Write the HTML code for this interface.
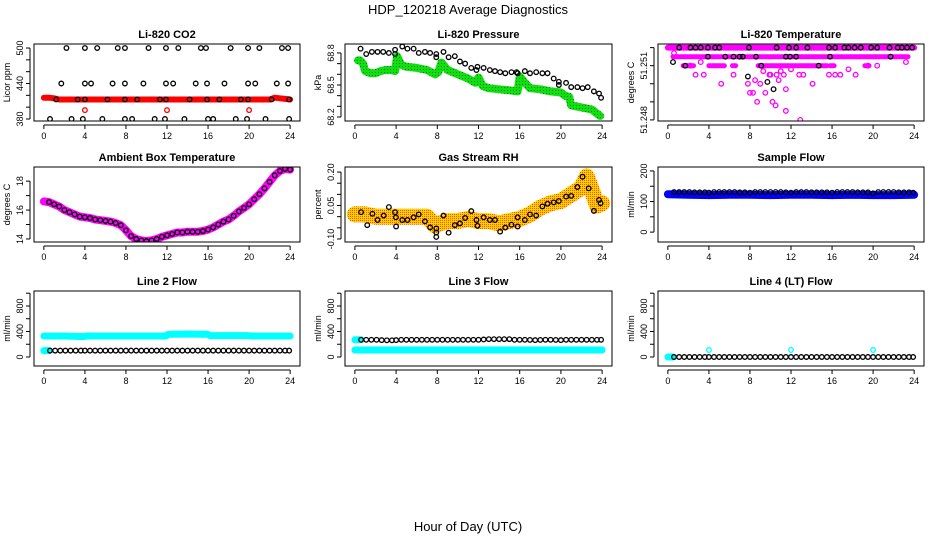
<!DOCTYPE html>
<html><head><meta charset="utf-8"><style>
html,body{margin:0;padding:0;background:#fff;}
svg{display:block;font-family:"Liberation Sans",Arial,sans-serif;}
</style></head><body>
<svg id="chart" width="936" height="540" viewBox="0 0 936 540">
<defs>
<pattern id="rhpat" width="2" height="2" patternUnits="userSpaceOnUse"><rect width="2" height="2" fill="#ffd000"/><rect width="1" height="1" fill="#ff5000"/></pattern>
<pattern id="grpat" width="3" height="3" patternUnits="userSpaceOnUse"><rect width="3" height="3" fill="#10e010"/><rect width="1" height="1" fill="#008000"/></pattern>
</defs>
<text x="468" y="14" text-anchor="middle" font-size="13">HDP_120218  Average Diagnostics</text>
<text x="468" y="531" text-anchor="middle" font-size="13">Hour of Day (UTC)</text>
</svg>
<script>
// ---------- data ----------
const co2BlackHours = [2.2,4.0,5.2,7.2,7.9,10.2,11.9,13.1,15.3,15.8,18.2,19.9,21.0,23.2,23.8, 1.7,4.0,4.6,6.7,7.9,9.7,11.9,12.6,14.8,15.9,17.6,19.9,20.6,22.7,23.8, 1.2,3.3,4.0,6.2,7.9,9.1,11.3,11.9,14.2,15.9,17.1,19.2,19.9,22.2,23.9, 0.6,2.7,3.8,5.7,7.9,8.6,10.8,11.8,13.7,16.0,16.5,18.7,19.8,21.6,23.9];
const co2BlackValues = [500,500,500,500,500,500,500,500,500,500,500,500,500,500,500, 440,440,440,440,440,440,440,440,440,440,440,440,440,440,440, 413,413,413,413,413,413,413,413,413,413,413,413,413,413,413, 380,380,380,380,380,380,380,380,380,380,380,380,380,380,380];
const co2RedHours = [0,0.5,1,1.5,2,4,6,8,10,12,14,16,18,20,22,22.5,23,23.5,24];
const co2RedValues = [416,416,415,413,413,413,413,413,413,413,413,413,413,413,413,416,415,414,413];
const co2RedOutHours = [4,12,20];
const co2RedOutValues = [395,395,395];

const presBlackHours = [0.55,1.1,1.65,2.2,2.75,3.3,3.9,3.9,4.6,5.1,5.7,6.2,6.8,7.3,7.9,7.9,8.6,9.1,9.7,10.2,10.7,11.3,11.8,11.9,12.5,13.1,13.6,14.1,14.6,15.2,15.7,15.8,16.5,17.0,17.6,18.2,18.7,19.3,19.8,19.8,20.5,21.0,21.6,22.1,22.6,23.2,23.7,23.9];
const presBlackValues = [68.84,68.79,68.81,68.81,68.81,68.80,68.83,68.79,68.86,68.84,68.84,68.80,68.81,68.80,68.79,68.76,68.81,68.76,68.77,68.72,68.70,68.66,68.64,68.67,68.66,68.64,68.63,68.62,68.61,68.62,68.62,68.61,68.63,68.61,68.62,68.61,68.61,68.56,68.50,68.53,68.52,68.48,68.48,68.47,68.48,68.44,68.42,68.38];
const presGreenHours = [0.3,0.5,0.8,1,1.5,2,2.5,3,3.5,3.9,4.1,4.5,5,6,7,7.8,8.1,8.4,9,10,11,11.7,12,12.4,13,14,15,15.8,16,16.5,17,18,19,20,20.4,20.8,21,22,23,23.8];
const presGreenValues = [68.73,68.73,68.70,68.63,68.61,68.61,68.63,68.64,68.64,68.63,68.77,68.69,68.67,68.66,68.64,68.60,68.62,68.71,68.64,68.60,68.56,68.52,68.57,68.49,68.47,68.46,68.45,68.44,68.58,68.52,68.47,68.46,68.44,68.43,68.40,68.39,68.31,68.29,68.27,68.21];

const tempMagHours = [0,1,2,3,4,5,6,7,8,9,10,11,12,13,14,15,16,17,18,19,20,21,22,23,24];
const tempMagTop = [51.252,51.252,51.252,51.252,51.252,51.252,51.252,51.252,51.252,51.252,51.252,51.252,51.252,51.252,51.252,51.252,51.252,51.252,51.252,51.252,51.252,51.252,51.252,51.252,51.252];
const tempMagMidHours = [0.5,2,4,6,8,10,12,14,16,18,20,22,23.4];
const tempMagMidValues = [51.2515,51.2515,51.2515,51.2515,51.2515,51.2515,51.2515,51.2515,51.2515,51.2515,51.2515,51.2515,51.2515];
const tempMagSegStart = [1.5,4.0,6.3,8.8,15.8,19.2];
const tempMagSegEnd = [2.5,5.5,6.6,15.5,16.2,19.6];
const tempMagScatterHours = [0.6,2.2,2.7,3.5,3.2,5.2,6.4,7.8,8.0,8.3,8.7,9.0,9.5,9.9,10.0,10.2,10.5,10.6,11.3,11.5,11.5,12.0,12.8,12.9,13.2,14.1,15.7,16.3,16.8,17.6,18.3,19.5,20.4,23.2,8.5,9.3,10.8,11.0];
const tempMagScatterValues = [51.2517,51.251,51.2505,51.2505,51.2512,51.25,51.2505,51.25,51.2495,51.2495,51.249,51.25,51.2495,51.2505,51.2505,51.249,51.2488,51.2505,51.2505,51.2485,51.2497,51.2508,51.2505,51.248,51.2505,51.25,51.2505,51.2505,51.2505,51.2508,51.2505,51.251,51.251,51.2512,51.2502,51.2507,51.2502,51.2507];
const tempBlackHours = [1.1,2.2,2.7,3.2,3.9,4.6,5.0,7.9,10.6,11.8,12.5,13.6,15.7,16.3,17.2,17.6,18.2,18.8,19.8,20.4,21.6,22.4,22.8,23.3,23.8, 3.9,5.6,6.4,7.0,7.3,8.6,11.5,11.9,12.5,15.8,21.7, 0.5,1.7,7.8,9.1,9.7,10.3,14.7];
const tempBlackValues = [51.252,51.252,51.252,51.252,51.252,51.252,51.252,51.252,51.252,51.252,51.252,51.252,51.252,51.252,51.252,51.252,51.252,51.252,51.252,51.252,51.252,51.252,51.252,51.252,51.252, 51.2515,51.2515,51.2515,51.2515,51.2515,51.2515,51.2515,51.2515,51.2515,51.2515,51.2515, 51.2512,51.251,51.2504,51.251,51.2501,51.2497,51.251];

const ambHours = [0,0.5,1,1.5,2,2.5,3,3.5,4,4.5,5,5.5,6,6.5,7,7.5,8,8.5,9,9.5,10,10.5,11,11.5,12,12.5,13,13.5,14,14.5,15,15.5,16,16.5,17,17.5,18,18.5,19,19.5,20,20.5,21,21.5,22,22.5,23,23.5,24];
const ambValues = [16.6,16.55,16.4,16.25,16.0,15.85,15.7,15.55,15.5,15.45,15.35,15.3,15.25,15.2,15.1,14.95,14.6,14.2,14.0,13.9,13.85,13.9,14.0,14.15,14.25,14.35,14.45,14.45,14.5,14.5,14.5,14.55,14.65,14.8,15.0,15.2,15.35,15.6,15.9,16.15,16.4,16.75,17.1,17.5,17.95,18.4,18.7,18.85,18.8];

const rhBlackHours = [0.6,1.2,1.7,2.2,2.8,3.3,3.9,3.98,4.0,4.6,5.1,5.7,6.2,6.8,7.3,7.9,7.9,7.9,8.6,9.1,9.7,10.2,10.7,11.3,11.8,11.9,12.5,13.1,13.6,14.1,14.6,15.2,15.8,15.8,16.5,17.0,17.6,18.2,18.7,19.3,19.8,20.5,21.0,21.6,22.1,22.7,23.2,23.7,23.85];
const rhBlackValues = [0.020,-0.038,0.013,-0.015,0.005,0.043,0.020,-0.003,-0.044,-0.015,-0.015,-0.003,0.010,-0.021,-0.048,-0.053,-0.071,-0.091,0.005,-0.072,-0.038,-0.030,-0.006,0.025,-0.015,-0.041,-0.003,-0.015,-0.015,-0.067,-0.049,-0.036,-0.003,-0.044,-0.015,0.010,0.005,0.046,0.058,0.064,0.070,0.090,0.093,0.133,0.179,0.127,0.026,0.075,0.060];
const rhBandHours = [0,1,2,3,4,5,6,7,7.8,8.2,9,10,11,12,13,14,15,16,17,18,19,20,21,22,22.5,23,23.5,24];
const rhBandValues = [0.01,0.01,0.0,0.0,0.0,0.0,0.0,0.0,-0.04,-0.03,-0.02,-0.02,-0.01,-0.02,-0.02,-0.03,-0.02,-0.01,0.01,0.04,0.06,0.07,0.10,0.13,0.18,0.12,0.05,0.06];

const flowHours = [0.6,1.1,1.6,2.1,2.6,3.1,3.6,4.0,4.5,5.0,5.5,6.0,6.5,7.0,7.5,8.0,8.5,9.0,9.5,10.0,10.5,11.0,11.5,12.0,12.5,13.0,13.5,14.0,14.5,15.0,15.5,16.0,16.5,17.0,17.5,18.0,18.5,19.0,19.5,20.0,20.5,21.0,21.5,22.0,22.5,23.0,23.5,23.9];
const sampleBlack = [131,131,131,131,130,130,130,129,131,131,131,131,131,130,130,129,131,131,131,131,131,131,130,129,131,131,131,130,130,130,130,129,131,131,131,131,130,130,130,127,131,131,131,131,130,130,130,129];
const sampleBlueHours = [0,2,4,6,8,10,12,14,16,18,20,22,24];
const sampleBlueValues = [124,122,121,122,122,121,122,122,121,122,121,121,122];

const line2BlackValues = [100,100,100,100,100,100,100,100,100,100,100,100,100,100,100,100,100,100,100,100,100,100,100,100,100,100,100,100,100,100,100,100,100,100,100,100,100,100,100,100,100,100,100,100,100,100,100,100];
const line2CyanHours = [0,0.5,0.6,2,3.9,4.1,6,8,10,11.9,12.1,14,16,16.2,18,19.9,20.1,22,24];
const line2CyanValues = [330,330,330,330,320,330,330,330,330,330,355,360,355,335,335,335,330,330,330];
const line3BlackValues = [270,270,270,270,265,262,262,265,270,270,270,270,270,270,270,270,270,270,270,270,270,270,270,270,275,280,280,280,280,280,270,270,270,268,265,268,270,270,268,265,270,270,270,270,270,270,270,270];
const line3CyanHours = [0,2,4,6,8,10,12,14,16,18,20,22,24];
const line3CyanValues = [110,110,110,110,110,110,110,110,110,110,110,110,110];
const line4BlackValues = [0,0,0,0,0,0,0,0,0,0,0,0,0,0,0,0,0,0,0,0,0,0,0,0,0,0,0,0,0,0,0,0,0,0,0,0,0,0,0,0,0,0,0,0,0,0,0,0];
const line4CyanOutHours = [4,12,20];
const line4CyanOutValues = [110,110,110];

const xTicks = [0,4,8,12,16,20,24];
// ---------- helpers ----------
const svg = document.getElementById('chart');
const NS = 'http://www.w3.org/2000/svg';
function mk(tag, attrs, parent){const e=document.createElementNS(NS,tag);for(const k in attrs)e.setAttribute(k,attrs[k]);(parent||svg).appendChild(e);return e;}
function makePanel(name, box, ylim, yTicks, yLabels, title, ylab){
  const g = mk('g',{});
  
  
  const [x0,y0,x1,y1] = box;
  const sx = h => x0 + (h+0.96)/25.92*(x1-x0);
  const sy = v => y1 - (v-ylim[0])/(ylim[1]-ylim[0])*(y1-y0);
  const t = mk('text',{x:(x0+x1)/2,y:y0-6,'text-anchor':'middle','font-size':'11','font-weight':'bold'},g);
  t.textContent = title;
  
  
  const xa = mk('g',{},g);
  
  
  mk('line',{x1:sx(0),x2:sx(24),y1:y1+4,y2:y1+4,stroke:'#000'},xa);
  xTicks.forEach(h=>{
    mk('line',{x1:sx(h),x2:sx(h),y1:y1+4,y2:y1+8,stroke:'#000'},xa);
    const tl = mk('text',{x:sx(h),y:y1+18,'text-anchor':'middle','font-size':'9'},xa);
    tl.textContent = h;
    
    
  });
  const ya = mk('g',{},g);
  
  
  mk('line',{x1:x0-4,x2:x0-4,y1:sy(yTicks[0]),y2:sy(yTicks[yTicks.length-1]),stroke:'#000'},ya);
  yTicks.forEach(v=>mk('line',{x1:x0-8,x2:x0-4,y1:sy(v),y2:sy(v),stroke:'#000'},ya));
  yLabels.forEach(l=>{
    const yy = sy(parseFloat(l));
    const tl = mk('text',{x:x0-11,y:yy,'text-anchor':'middle','font-size':'9',transform:`rotate(-90 ${x0-11} ${yy})`},ya);
    tl.textContent = l;
    
    
  });
  const yl = mk('text',{x:x0-24,y:(y0+y1)/2,'text-anchor':'middle','font-size':'9',transform:`rotate(-90 ${x0-24} ${(y0+y1)/2})`},g);
  yl.textContent = ylab;
  
  
  const clip = 'c'+name;
  const cp = mk('clipPath',{id:clip},g); mk('rect',{x:x0,y:y0,width:x1-x0,height:y1-y0},cp);
  const plot = mk('g',{'clip-path':`url(#${clip})`},g);
  mk('rect',{x:x0,y:y0,width:x1-x0,height:y1-y0,fill:'none',stroke:'#000','stroke-width':1},g);
  return {sx,sy,plot};
}
function band(p, hs, vs, color, w, name){
  const d = hs.map((h,i)=>(i?'L':'M')+p.sx(h).toFixed(1)+' '+p.sy(vs[i]).toFixed(1)).join(' ');
  const e = mk('path',{d:d,fill:'none',stroke:color,'stroke-width':w,'stroke-linecap':'round','stroke-linejoin':'round'},p.plot);
  
  
}
function pts(p, hs, vs, color, name, r){
  hs.forEach((h,i)=>{
    const c = mk('circle',{cx:p.sx(h),cy:p.sy(vs[i]),r:r||2.3,fill:'none',stroke:color,'stroke-width':1.3},p.plot);
    
    
  });
}
const C1=[34,300], C2=[345,612], C3=[658,924];
const R1=[44,121], R2=[167,242], R3=[291,366];
const bx=(c,r)=>[c[0],r[0],c[1],r[1]];

let p = makePanel('co2-panel', bx(C1,R1), [376.6,506.8], [380,400,420,440,460,480,500], ['380','440','500'], 'Li-820 CO2', 'Licor ppm');
band(p, co2RedHours, co2RedValues, '#ff0000', 6, 'co2-red-band');
pts(p, co2RedOutHours, co2RedOutValues, '#ff0000', 'co2-red-point');
pts(p, co2BlackHours, co2BlackValues, '#000', 'co2-black-point');

p = makePanel('pressure-panel', bx(C2,R1), [68.1625,68.884], [68.2,68.3,68.4,68.5,68.6,68.7,68.8], ['68.2','68.5','68.8'], 'Li-820 Pressure', 'kPa');
band(p, presGreenHours, presGreenValues, 'url(#grpat)', 8, 'pressure-green-band');
pts(p, presBlackHours, presBlackValues, '#000', 'pressure-black-point');

p = makePanel('li820-temp-panel', bx(C3,R1), [51.24794,51.2522], [51.248,51.249,51.25,51.251,51.252], ['51.248','51.251'], 'Li-820 Temperature', 'degrees C');
band(p, tempMagHours, tempMagTop, '#ff00ff', 6, 'temp-magenta-top');
band(p, tempMagMidHours, tempMagMidValues, '#ff00ff', 5, 'temp-magenta-mid');
tempMagSegStart.forEach((s,i)=>band(p,[s,tempMagSegEnd[i]],[51.251,51.251],'#ff00ff',5,'temp-magenta-segment'));
pts(p, tempMagScatterHours, tempMagScatterValues, '#ff00ff', 'temp-magenta-point');
pts(p, tempBlackHours, tempBlackValues, '#000', 'temp-black-point');

p = makePanel('ambient-temp-panel', bx(C1,R2), [13.79,18.98], [14,15,16,17,18], ['14','16','18'], 'Ambient Box Temperature', 'degrees C');
band(p, ambHours, ambValues, '#ff00ff', 8, 'ambient-magenta-band');
pts(p, ambHours.slice(1), ambValues.slice(1), '#000', 'ambient-black-point');

p = makePanel('rh-panel', bx(C2,R2), [-0.1136,0.2227], [-0.1,-0.05,0,0.05,0.1,0.15,0.2], ['-0.10','0.05','0.20'], 'Gas Stream RH', 'percent');
band(p, rhBandHours, rhBandValues, 'url(#rhpat)', 16, 'rh-orange-band');
pts(p, rhBlackHours, rhBlackValues, '#000', 'rh-black-point');

p = makePanel('sample-flow-panel', bx(C3,R2), [-32.3,212.9], [0,50,100,150,200], ['0','100','200'], 'Sample Flow', 'ml/min');
band(p, sampleBlueHours, sampleBlueValues, '#0000ff', 8, 'sample-blue-band');
pts(p, flowHours, sampleBlack, '#000', 'sample-black-point');

const flowTicks=[0,200,400,600,800,1000], flowLabels=['0','400','800'];
p = makePanel('line2-flow-panel', bx(C1,R3), [-141,1035], flowTicks, flowLabels, 'Line 2 Flow', 'ml/min');
band(p, line2CyanHours, line2CyanValues, '#00ffff', 7, 'line2-cyan-band');
band(p, [0,0.5], [100,100], '#00ffff', 7, 'line2-cyan-start');
pts(p, flowHours, line2BlackValues, '#000', 'line2-black-point');

p = makePanel('line3-flow-panel', bx(C2,R3), [-141,1035], flowTicks, flowLabels, 'Line 3 Flow', 'ml/min');
band(p, line3CyanHours, line3CyanValues, '#00ffff', 7, 'line3-cyan-band');
band(p, [0,0.6], [270,270], '#00ffff', 7, 'line3-cyan-start');
pts(p, flowHours, line3BlackValues, '#000', 'line3-black-point');

p = makePanel('line4-flow-panel', bx(C3,R3), [-141,1035], flowTicks, flowLabels, 'Line 4 (LT) Flow', 'ml/min');
band(p, [0,0.5], [0,0], '#00ffff', 7, 'line4-cyan-start');
pts(p, line4CyanOutHours, line4CyanOutValues, '#00ffff', 'line4-cyan-point');
pts(p, flowHours, line4BlackValues, '#000', 'line4-black-point');
</script>
</body></html>
